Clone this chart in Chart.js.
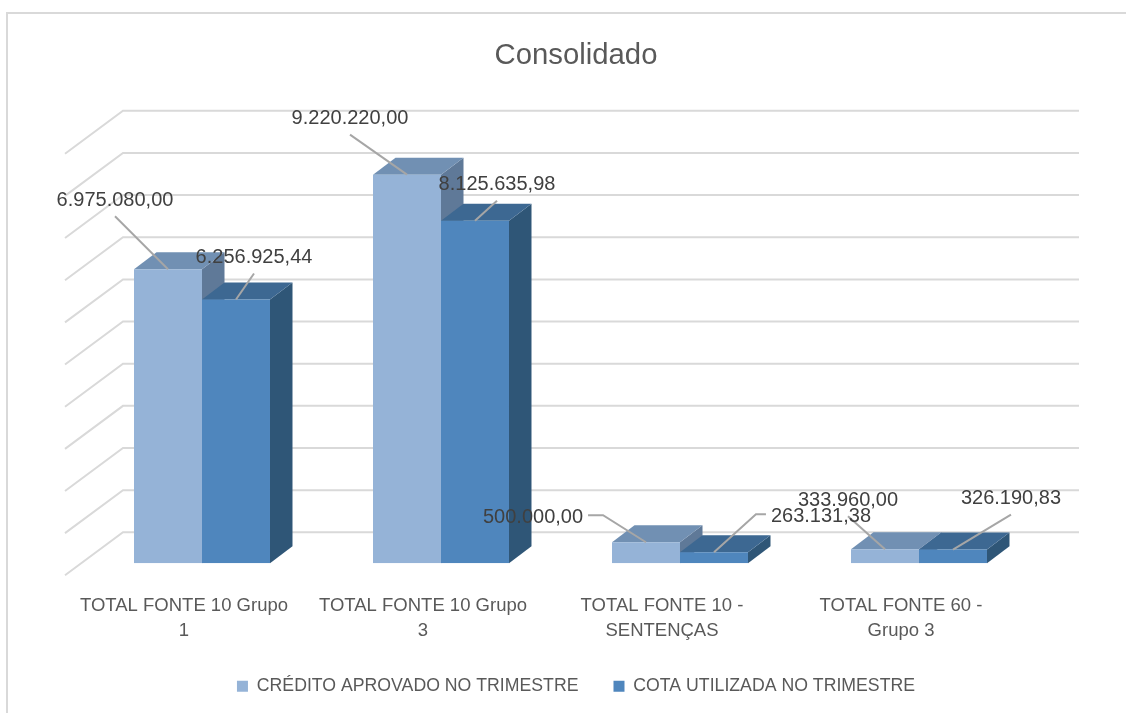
<!DOCTYPE html>
<html>
<head>
<meta charset="utf-8">
<script src="https://cdn.jsdelivr.net/npm/chart.js@4/dist/chart.umd.min.js"></script>
<style>
  html, body { margin: 0; padding: 0; background: #fff; overflow: hidden; }
  #frame { position: absolute; left: 6px; top: 12px; width: 1200px; height: 800px; border: 2px solid #D9D9D9; }
  #wrap { position: absolute; left: 0; top: 0; width: 1126px; height: 713px; }
</style>
</head>
<body>
<div id="frame"></div>
<div id="wrap"><canvas id="chart" width="1126" height="713"></canvas></div>
<script>
const categories = [
    ['TOTAL FONTE 10 Grupo', '1'],
    ['TOTAL FONTE 10 Grupo', '3'],
    ['TOTAL FONTE 10 -', 'SENTENÇAS'],
    ['TOTAL FONTE 60 -', 'Grupo 3']
];
const creditoAprovado = [6975080.00, 9220220.00, 500000.00, 333960.00];
const cotaUtilizada = [6256925.44, 8125635.98, 263131.38, 326190.83];
const seriesNames = ['CRÉDITO APROVADO NO TRIMESTRE', 'COTA UTILIZADA NO TRIMESTRE'];
const yMax = 10000000;
const yStep = 1000000;

// colours: front, top, side
const faceColors = [
    { front: '#95B3D7', top: '#7190B3', side: '#5F7998' },
    { front: '#4F86BD', top: '#3D6892', side: '#2F5677' }
];

// where each value label sits relative to the top-front centre of its bar
const labelPos = [
    [{ dx: -53, dy: -69, lead: 'below' }, { dx: -57, dy: -56, lead: 'below' }, { dx: -113, dy: -25, lead: 'right' }, { dx: -37, dy: -49, lead: 'below' }],
    [{ dx: 18, dy: -42, lead: 'below' }, { dx: 22, dy: -36, lead: 'below' }, { dx: 107, dy: -36, lead: 'left' }, { dx: 58, dy: -51, lead: 'below' }]
];

const DEPTH_X = 22.5, DEPTH_Y = -17;     // bar depth
const WALL_X = 40.5, WALL_Y = -31;       // back wall vs. bar front plane
const SIDE_X = -58, SIDE_Y = 43;         // side wall gridline run

function fmt(v) {
    const parts = v.toFixed(2).split('.');
    const int = parts[0].replace(/\B(?=(\d{3})+(?!\d))/g, '.');
    return int + ',' + parts[1];
}

const threeD = {
    id: 'threeD',
    beforeDatasetsDraw(chart) {
        const ctx = chart.ctx;
        const y = chart.scales.y;
        const area = chart.chartArea;
        // gridlines on back wall and side wall
        ctx.save();
        ctx.strokeStyle = '#D9D9D9';
        ctx.lineWidth = 2;
        y.ticks.forEach(t => {
            const by = y.getPixelForValue(t.value) + WALL_Y;
            const bx0 = area.left + WALL_X;
            const bx1 = area.right + WALL_X;
            ctx.beginPath();
            ctx.moveTo(bx0 + SIDE_X, by + SIDE_Y);
            ctx.lineTo(bx0, by);
            ctx.lineTo(bx1, by);
            ctx.stroke();
        });
        // side and top faces
        chart.data.datasets.forEach((ds, di) => {
            const meta = chart.getDatasetMeta(di);
            const c = faceColors[di];
            meta.data.forEach(bar => {
                const l = bar.x - bar.width / 2, r = bar.x + bar.width / 2;
                ctx.fillStyle = c.side;
                ctx.beginPath();
                ctx.moveTo(r, bar.y);
                ctx.lineTo(r + DEPTH_X, bar.y + DEPTH_Y);
                ctx.lineTo(r + DEPTH_X, bar.base + DEPTH_Y);
                ctx.lineTo(r, bar.base);
                ctx.closePath();
                ctx.fill();
                ctx.fillStyle = c.top;
                ctx.beginPath();
                ctx.moveTo(l, bar.y);
                ctx.lineTo(r, bar.y);
                ctx.lineTo(r + DEPTH_X, bar.y + DEPTH_Y);
                ctx.lineTo(l + DEPTH_X, bar.y + DEPTH_Y);
                ctx.closePath();
                ctx.fill();
            });
        });
        ctx.restore();
    },
    afterDatasetsDraw(chart) {
        const ctx = chart.ctx;
        ctx.save();
        ctx.font = '20px "Liberation Sans", Arial, sans-serif';
        ctx.textAlign = 'center';
        ctx.textBaseline = 'middle';
        chart.data.datasets.forEach((ds, di) => {
            const meta = chart.getDatasetMeta(di);
            meta.data.forEach((bar, i) => {
                const p = labelPos[di][i];
                const text = fmt(ds.data[i]);
                const tx = bar.x + p.dx, ty = bar.y + p.dy;
                const ax = bar.x, ay = bar.y;
                const w = ctx.measureText(text).width;
                ctx.strokeStyle = '#A6A6A6';
                ctx.lineWidth = 2;
                ctx.beginPath();
                if (p.lead === 'below') {
                    ctx.moveTo(tx, ty + 16);
                } else if (p.lead === 'right') {
                    ctx.moveTo(tx + w / 2 + 5, ty - 2);
                    ctx.lineTo(tx + w / 2 + 20, ty - 2);
                } else {
                    ctx.moveTo(tx - w / 2 - 5, ty - 2);
                    ctx.lineTo(tx - w / 2 - 15, ty - 2);
                }
                ctx.lineTo(ax, ay);
                ctx.stroke();
                ctx.fillStyle = '#404040';
                ctx.fillText(text, tx, ty);
            });
        });
        ctx.restore();
    }
};

new Chart(document.getElementById('chart'), {
    type: 'bar',
    data: {
        labels: categories,
        datasets: [
            { label: seriesNames[0], data: creditoAprovado, backgroundColor: faceColors[0].front, yAxisID: 'y' },
            { label: seriesNames[1], data: cotaUtilizada, backgroundColor: faceColors[1].front, yAxisID: 'y' }
        ]
    },
    options: {
        responsive: false,
        animation: false,
        categoryPercentage: 0.569,
        barPercentage: 1.0,
        layout: { padding: { left: 26, right: 0, top: 0, bottom: 8 } },
        plugins: {
            title: {
                display: true,
                text: 'Consolidado',
                color: '#595959',
                font: { family: '"Liberation Sans", Arial, sans-serif', size: 29.3, weight: 'normal' },
                padding: { top: 38, bottom: 68.6 }
            },
            legend: {
                position: 'bottom',
                labels: {
                    color: '#595959',
                    font: { family: '"Liberation Sans", Arial, sans-serif', size: 17.7 },
                    boxWidth: 11,
                    boxHeight: 11,
                    padding: 35
                }
            },
            tooltip: { enabled: false }
        },
        scales: {
            x: {
                grid: { display: false, drawTicks: false },
                border: { display: false },
                ticks: {
                    color: '#595959',
                    font: { family: '"Liberation Sans", Arial, sans-serif', size: 18.5, lineHeight: 1.36 },
                    padding: 30,
                    labelOffset: -18,
                    maxRotation: 0,
                    autoSkip: false
                },
                afterFit(scale) { scale.height = 79; }
            },
            y: {
                min: 0,
                max: yMax,
                ticks: { display: false, stepSize: yStep },
                grid: { display: false },
                border: { display: false },
                afterFit(scale) { scale.width = 56.5; }
            },
            y2: {
                position: 'right',
                min: 0,
                max: yMax,
                ticks: { display: false },
                grid: { display: false },
                border: { display: false },
                afterFit(scale) { scale.width = 87.5; }
            }
        }
    },
    plugins: [threeD]
});
</script>
</body>
</html>
